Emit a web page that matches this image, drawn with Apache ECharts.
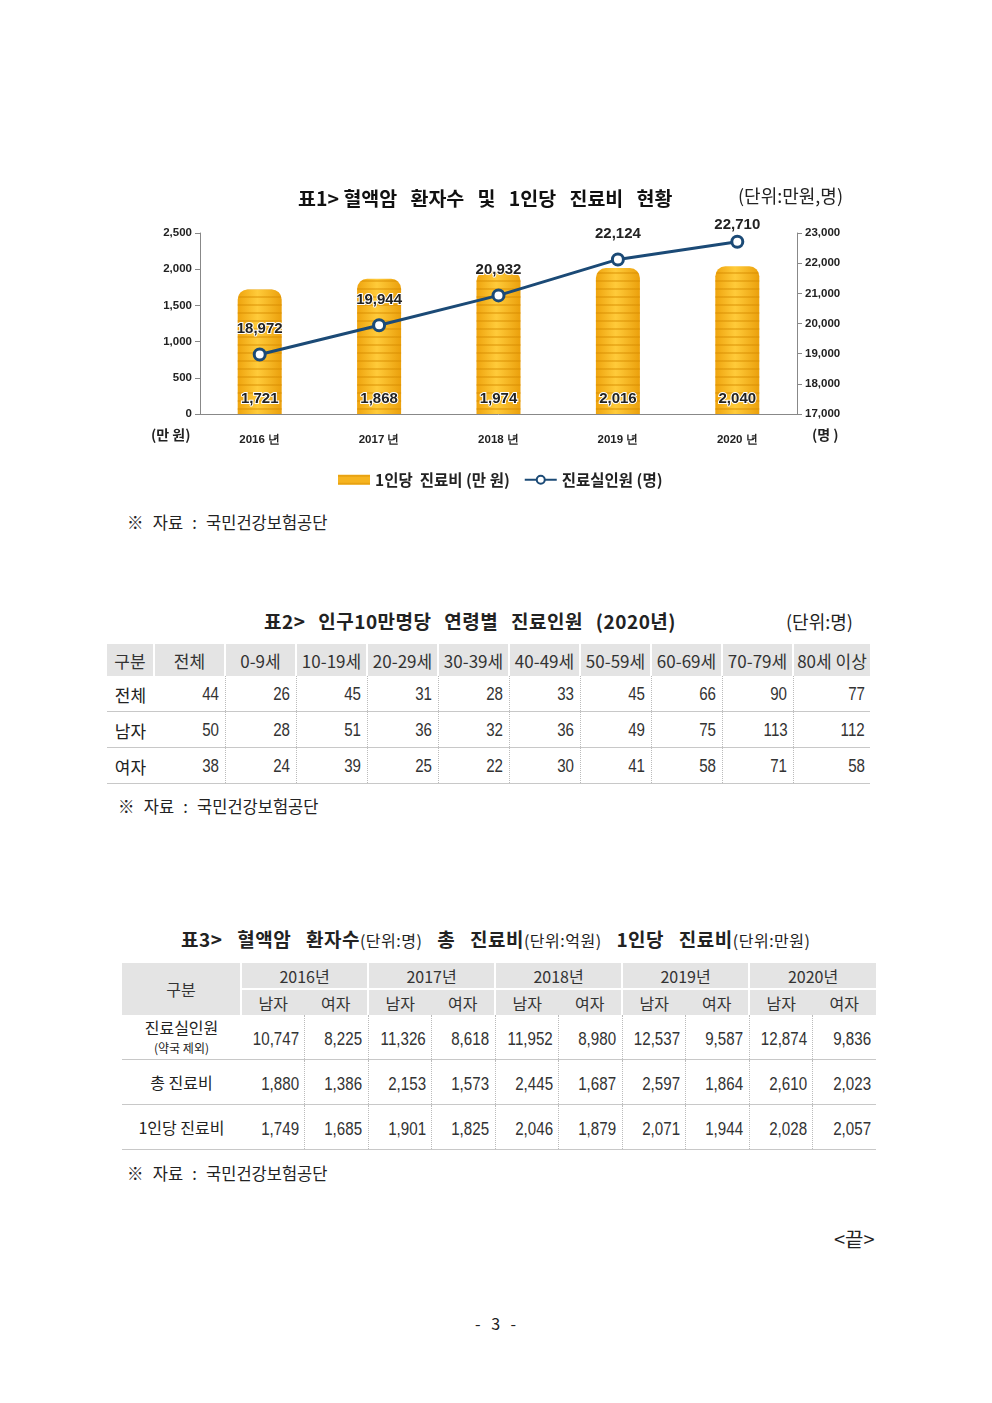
<!DOCTYPE html>
<html>
<head>
<meta charset="utf-8">
<script src="https://cdn.jsdelivr.net/npm/echarts@6/dist/echarts.min.js"></script>
<style>
    body{margin:0;background:#fff;font-family:"Noto Sans CJK KR",sans-serif;color:#222;}
    #page{position:relative;width:992px;height:1403px;overflow:hidden;}
    #chart1{position:absolute;left:0;top:0;width:992px;height:510px;}
    .txt{position:absolute;white-space:nowrap;}
    .ttl{font-size:19px;font-weight:bold;word-spacing:9px;letter-spacing:0.5px;}
    .note{font-size:16.5px;color:#222;word-spacing:5.5px;}
    table{position:absolute;border-collapse:collapse;table-layout:fixed;}
    td{padding:0;font-size:17px;}
    .num{font-family:"Liberation Sans",sans-serif;font-size:18px;text-align:right;padding-right:5px;color:#333;}
    .num span{display:inline-block;transform:scaleX(0.84);transform-origin:right center;}
    #t2 td.h{background:#e4e4e4;text-align:center;border-right:2px solid #fff;height:32px;color:#333;}
    #t2 tr.r td{height:33px;border-bottom:1px solid #c8c8c8;border-right:1px dotted #bbb;padding-top:2px;}
    #t2 tr.r td.lab{text-align:center;border-right:none;}
    #t3 td.h{background:#e4e4e4;text-align:center;color:#333;font-size:16px;}
    #t3 tr.r td{border-bottom:1px solid #c8c8c8;border-right:1px dotted #bbb;padding-top:4px;}
    #t3 tr.r td.lab{text-align:center;font-size:16px;border-right:none;line-height:19px;padding-top:0;}
</style>
</head>
<body>
<div id="page">
    <div id="chart1"></div>

    <div class="txt note" style="left:127px;top:510px;">※ 자료 : 국민건강보험공단</div>

    <div class="txt ttl" style="left:264px;top:607px;word-spacing:8px;">표2&gt; 인구10만명당 연령별 진료인원 (2020년)</div>
    <div class="txt" style="left:786px;top:608px;font-size:18px;">(단위:명)</div>
    <table id="t2" style="left:107px;top:644px;width:763px;"></table>
    <div class="txt note" style="left:118px;top:794px;">※ 자료 : 국민건강보험공단</div>

    <div class="txt ttl" style="left:181px;top:925px;word-spacing:10px;">표3&gt; 혈액암 환자수<span style="font-size:16px;font-weight:normal;word-spacing:2px;">(단위:명)</span> 총 진료비<span style="font-size:16px;font-weight:normal;word-spacing:2px;">(단위:억원)</span> 1인당 진료비<span style="font-size:16px;font-weight:normal;">(단위:만원)</span></div>
    <table id="t3" style="left:122px;top:963px;width:754px;"></table>
    <div class="txt note" style="left:127px;top:1161px;">※ 자료 : 국민건강보험공단</div>

    <div class="txt" style="left:834px;top:1224px;font-size:20px;">&lt;끝&gt;</div>
    <div class="txt" style="left:475px;top:1311px;font-size:16px;word-spacing:7px;">- 3 -</div>
</div>
<script>
    // 표1 데이터
    var years = ['2016 년', '2017 년', '2018 년', '2019 년', '2020 년'];
    var costPerPerson = [1721, 1868, 1974, 2016, 2040];
    var patients = [18972, 19944, 20932, 22124, 22710];

    // 표2 데이터
    var ageGroups = ['전체', '0-9세', '10-19세', '20-29세', '30-39세', '40-49세', '50-59세', '60-69세', '70-79세', '80세 이상'];
    var t2Rows = ['전체', '남자', '여자'];
    var t2All = [44, 26, 45, 31, 28, 33, 45, 66, 90, 77];
    var t2Male = [50, 28, 51, 36, 32, 36, 49, 75, 113, 112];
    var t2Female = [38, 24, 39, 25, 22, 30, 41, 58, 71, 58];

    // 표3 데이터 (남자, 여자 순서)
    var t3Years = ['2016년', '2017년', '2018년', '2019년', '2020년'];
    var t3Patients = [10747, 8225, 11326, 8618, 11952, 8980, 12537, 9587, 12874, 9836];
    var t3TotalCost = [1880, 1386, 2153, 1573, 2445, 1687, 2597, 1864, 2610, 2023];
    var t3CostPer = [1749, 1685, 1901, 1825, 2046, 1879, 2071, 1944, 2028, 2057];

    function fmt(v) {
        return Number(v).toLocaleString('en-US');
    }

    var myChart1 = echarts.init(document.getElementById('chart1'));
    var option1 = {
        animation: false,
        title: {
            text: '표1> 혈액암   환자수   및   1인당   진료비   현황',
            left: 293,
            top: 184,
            textStyle: {fontSize: 19.5, fontWeight: 'bold', color: '#111', fontFamily: 'Noto Sans CJK KR'}
        },
        graphic: [
            {type: 'text', left: 738, top: 187, style: {text: '(단위:만원,명)', fontSize: 18, fill: '#222', fontFamily: 'Noto Sans CJK KR'}},
            {type: 'text', left: 151, top: 428, style: {text: '(만 원)', fontSize: 14, fontWeight: 'bold', fill: '#222', fontFamily: 'Noto Sans CJK KR'}},
            {type: 'text', left: 812, top: 428, style: {text: '(명 )', fontSize: 14, fontWeight: 'bold', fill: '#222', fontFamily: 'Noto Sans CJK KR'}}
        ],
        legend: {
            top: 467,
            left: 333,
            itemGap: 14,
            itemWidth: 32,
            itemHeight: 10,
            textStyle: {fontSize: 15.5, fontWeight: 'bold', color: '#222', fontFamily: 'Noto Sans CJK KR'},
            data: [
                {name: '1인당  진료비 (만 원)', icon: 'rect', itemStyle: {color: '#F6B420'}},
                {name: '진료실인원 (명)'}
            ]
        },
        grid: {left: 200, right: 195, top: 233, bottom: 96},
        xAxis: {
            type: 'category',
            data: years,
            axisLine: {lineStyle: {color: '#888'}},
            axisTick: {length: 5, lineStyle: {color: '#888'}},
            axisLabel: {margin: 20, fontSize: 11.5, fontWeight: 'bold', color: '#222'}
        },
        yAxis: [
            {
                type: 'value', min: 0, max: 2500, interval: 500,
                splitLine: {show: false},
                axisLine: {show: true, lineStyle: {color: '#888'}},
                axisTick: {show: true, length: 5, lineStyle: {color: '#888'}},
                axisLabel: {fontSize: 11.5, fontWeight: 'bold', color: '#222', formatter: fmt}
            },
            {
                type: 'value', min: 17000, max: 23000, interval: 1000,
                splitLine: {show: false},
                axisLine: {show: true, lineStyle: {color: '#888'}},
                axisTick: {show: true, length: 5, lineStyle: {color: '#888'}},
                axisLabel: {fontSize: 11.5, fontWeight: 'bold', color: '#222', formatter: fmt}
            }
        ],
        series: [
            {
                name: '1인당  진료비 (만 원)',
                type: 'bar',
                barWidth: 44,
                data: costPerPerson,
                itemStyle: {
                    borderRadius: [10, 10, 0, 0],
                    color: new echarts.graphic.LinearGradient(0, 0, 1, 0, [
                        {offset: 0, color: '#EFA40E'},
                        {offset: 0.45, color: '#FFCB3A'},
                        {offset: 1, color: '#EBA00C'}
                    ]),
                    decal: {
                        symbol: 'rect', symbolSize: 1, rotation: 0,
                        dashArrayX: [1, 0], dashArrayY: [2, 6],
                        color: 'rgba(214,140,0,0.45)'
                    }
                },
                label: {
                    show: true, position: 'insideBottom', distance: 8,
                    fontSize: 15, fontWeight: 'bold', color: '#222',
                    textBorderColor: '#fff', textBorderWidth: 2,
                    formatter: function (p) { return fmt(p.value); }
                }
            },
            {
                name: '진료실인원 (명)',
                type: 'line',
                yAxisIndex: 1,
                // 마지막 값 라벨은 원본처럼 점에 더 가깝게
                data: patients.map(function (v, i) {
                    return i === patients.length - 1 ? {value: v, label: {distance: 2}} : v;
                }),
                color: '#1B4A76',
                lineStyle: {width: 3, color: '#1B4A76'},
                symbol: 'circle',
                symbolSize: 11,
                itemStyle: {color: '#fff', borderColor: '#1B4A76', borderWidth: 3},
                label: {
                    show: true, position: 'top', distance: 11,
                    fontSize: 15, fontWeight: 'bold', color: '#222',
                    textBorderColor: '#fff', textBorderWidth: 2,
                    formatter: function (p) { return fmt(p.value); }
                }
            }
        ]
    };
    myChart1.setOption(option1, true);

    function numCell(v, last) {
        return '<td class="num"' + (last ? ' style="border-right:none"' : '') + '><span>' + v + '</span></td>';
    }

    // 표2
    var t2 = document.getElementById('t2');
    var html = '<colgroup><col style="width:47px">';
    for (var i = 0; i < 9; i++) html += '<col style="width:71px">';
    html += '<col style="width:77px"></colgroup>';
    html += '<tr><td class="h">구분</td>';
    ageGroups.forEach(function (g, k) {
        html += '<td class="h"' + (k === ageGroups.length - 1 ? ' style="border-right:none"' : '') + '>' + g + '</td>';
    });
    html += '</tr>';
    [t2All, t2Male, t2Female].forEach(function (row, r) {
        html += '<tr class="r"><td class="lab">' + t2Rows[r] + '</td>';
        row.forEach(function (v, k) {
            html += numCell(v, k === row.length - 1);
        });
        html += '</tr>';
    });
    t2.innerHTML = html;

    // 표3
    var t3 = document.getElementById('t3');
    var h3 = '<colgroup><col style="width:119px">';
    for (var j = 0; j < 10; j++) h3 += '<col style="width:63.5px">';
    h3 += '</colgroup>';
    h3 += '<tr><td class="h" rowspan="2" style="height:52px;border-right:2px solid #fff;">구분</td>';
    t3Years.forEach(function (y, k) {
        h3 += '<td class="h" colspan="2" style="height:25px;border-bottom:2px solid #fff;' + (k < 4 ? 'border-right:2px solid #fff;' : '') + '">' + y + '</td>';
    });
    h3 += '</tr><tr>';
    for (var s = 0; s < 10; s++) {
        h3 += '<td class="h" style="height:25px;' + (s % 2 === 1 && s < 9 ? 'border-right:2px solid #fff;' : '') + '">' + (s % 2 === 0 ? '남자' : '여자') + '</td>';
    }
    h3 += '</tr>';
    var t3Labels = ['진료실인원<br><span style="font-size:12px;">(약국 제외)</span>', '총 진료비', '1인당 진료비'];
    [t3Patients, t3TotalCost, t3CostPer].forEach(function (row, r) {
        h3 += '<tr class="r"><td class="lab" style="height:44px;">' + t3Labels[r] + '</td>';
        row.forEach(function (v, k) {
            h3 += numCell(fmt(v), k === row.length - 1);
        });
        h3 += '</tr>';
    });
    t3.innerHTML = h3;
</script>
</body>
</html>
